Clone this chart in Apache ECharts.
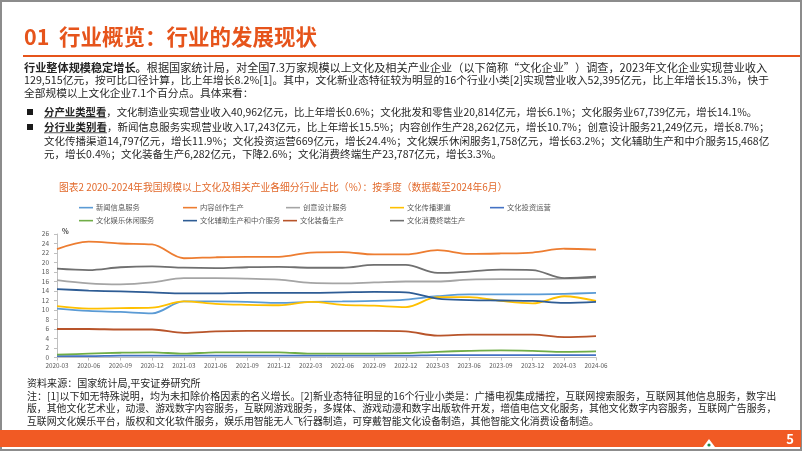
<!DOCTYPE html>
<html><head><meta charset="utf-8">
<script src="https://cdn.jsdelivr.net/npm/echarts@6/dist/echarts.min.js"></script>
<style>html,body{margin:0;padding:0;background:#fff}#c{width:802px;height:451px}</style>
</head><body><div id="c"></div>
<script>
// ---------- DATA ----------
const categories = ['2020-03','2020-06','2020-09','2020-12','2021-03','2021-06','2021-09','2021-12','2022-03','2022-06','2022-09','2022-12','2023-03','2023-06','2023-09','2023-12','2024-03','2024-06'];
const seriesNames = ['新闻信息服务','内容创作生产','创意设计服务','文化传播渠道','文化投资运营','文化娱乐休闲服务','文化辅助生产和中介服务','文化装备生产','文化消费终端生产'];
const newsInfo      = [10.3, 9.8, 9.6, 9.3,11.8,11.8,11.7,11.5,11.7,11.8,11.9,12.2,12.9,13.3,13.3,13.3,13.4,13.6];
const contentCreate = [22.8,24.4,24.0,23.8,20.9,21.1,21.2,21.2,22.1,22.2,21.7,21.7,22.6,21.8,21.9,22.1,22.9,22.7];
const creativeDesign= [16.3,15.6,15.4,15.8,16.7,16.7,16.6,16.4,15.7,15.6,15.8,16.0,16.0,16.4,16.5,16.5,16.6,16.8];
const commChannel   = [10.8,10.3,10.4,10.5,11.8,11.3,11.1,11.0,11.7,11.1,10.9,10.6,12.7,12.7,11.9,11.4,12.9,11.9];
const investOper    = [0.3,0.3,0.4,0.4,0.4,0.4,0.4,0.4,0.4,0.4,0.4,0.4,0.5,0.5,0.5,0.5,0.5,0.5];
const leisure       = [0.6,0.8,1.0,1.1,0.8,1.1,1.1,1.1,0.8,0.8,0.8,0.9,1.2,1.4,1.5,1.4,1.2,1.3];
const auxiliary     = [14.4,14.1,13.9,13.7,13.5,13.5,13.6,13.6,13.6,13.7,13.8,13.7,12.4,12.1,12.0,11.9,11.5,11.7];
const equipment     = [6.0,6.0,5.9,5.9,5.2,5.5,5.6,5.6,5.6,5.6,5.6,5.5,4.6,4.8,4.8,4.8,4.3,4.5];
const consumerTerm  = [18.7,18.4,19.0,19.2,18.9,18.8,19.0,19.1,18.9,18.9,19.5,19.5,17.8,18.1,18.5,18.4,16.7,17.0];
const seriesColors = ['#5b9bd5','#ed7d31','#a5a5a5','#ffc000','#4472c4','#70ad47','#2e5c94','#b8542a','#707070'];
const yMin = 0, yMax = 26, yInterval = 2;

// ---------- TEXT ----------
const titleText = '01  行业概览：行业的发展现状';
const paraLines = [
  '{b|行业整体规模稳定增长。}根据国家统计局，对全国7.3万家规模以上文化及相关产业企业（以下简称“文化企业”）调查，2023年文化企业实现营业收入',
  '129,515亿元，按可比口径计算，比上年增长8.2%[1]。其中，文化新业态特征较为明显的16个行业小类[2]实现营业收入52,395亿元，比上年增长15.3%，快于',
  '全部规模以上文化企业7.1个百分点。具体来看：'
];
const bullet1 = '{u|分产业类型看}，文化制造业实现营业收入40,962亿元，比上年增长0.6%；文化批发和零售业20,814亿元，增长6.1%；文化服务业67,739亿元，增长14.1%。';
const bullet2Lines = [
  '{u|分行业类别看}，新闻信息服务实现营业收入17,243亿元，比上年增长15.5%；内容创作生产28,262亿元，增长10.7%；创意设计服务21,249亿元，增长8.7%；',
  '文化传播渠道14,797亿元，增长11.9%；文化投资运营669亿元，增长24.4%；文化娱乐休闲服务1,758亿元，增长63.2%；文化辅助生产和中介服务15,468亿',
  '元，增长0.4%；文化装备生产6,282亿元，下降2.6%；文化消费终端生产23,787亿元，增长3.3%。'
];
const chartTitle = '图表2 2020-2024年我国规模以上文化及相关产业各细分行业占比（%）：按季度（数据截至2024年6月）';
const sourceText = '资料来源：国家统计局,平安证券研究所';
const noteLines = [
  '注：[1]以下如无特殊说明，均为未扣除价格因素的名义增长。[2]新业态特征明显的16个行业小类是：广播电视集成播控，互联网搜索服务，互联网其他信息服务，数字出',
  '版，其他文化艺术业，动漫、游戏数字内容服务，互联网游戏服务，多媒体、游戏动漫和数字出版软件开发，增值电信文化服务，其他文化数字内容服务，互联网广告服务，',
  '互联网文化娱乐平台，版权和文化软件服务，娱乐用智能无人飞行器制造，可穿戴智能文化设备制造，其他智能文化消费设备制造。'
];
const pageNumber = '5';

// ---------- HELPERS ----------
const FONT = '"Noto Sans CJK SC","Noto Sans CJK JP",sans-serif';
const mctx = document.createElement('canvas').getContext('2d');
function measure(s, size, weight) { mctx.font = (weight || 'normal') + ' ' + size + 'px ' + FONT; return mctx.measureText(s).width; }
function parseRich(s) {
  const parts = []; const re = /\{(\w)\|([^}]*)\}/g; let last = 0, m;
  while ((m = re.exec(s))) { if (m.index > last) parts.push({t: s.slice(last, m.index), b: false}); parts.push({t: m[2], b: true, tag: m[1]}); last = re.lastIndex; }
  if (last < s.length) parts.push({t: s.slice(last), b: false});
  return parts;
}
function measureRich(s, size) { return parseRich(s).reduce((w, p) => w + measure(p.t, size, p.b ? 'bold' : 'normal'), 0); }
function fit(s, target, weight) { return 10 * target / (weight ? measure(s, 10, weight) : measureRich(s, 10)); }

const graphics = [];
function addText(str, x, y, size, color, weight, align) {
  graphics.push({
    type: 'text', x: x, y: y, silent: true, z: 10,
    style: {
      text: str, fill: color, fontSize: size, fontFamily: FONT, fontWeight: weight || 'normal',
      textAlign: align || 'left', align: align || 'left', textVerticalAlign: 'middle', verticalAlign: 'middle',
      rich: {
        b: {fontWeight: 'bold', fontSize: size, fontFamily: FONT, fill: color},
        u: {fontWeight: 'bold', fontSize: size, fontFamily: FONT, fill: color}
      }
    }
  });
}
function addUnderline(str, x, y, size, color) {
  const parts = parseRich(str);
  let cx = x;
  parts.forEach(p => {
    const w = measure(p.t, size, p.b ? 'bold' : 'normal');
    if (p.tag === 'u') graphics.push({type: 'line', silent: true, z: 10, shape: {x1: cx, y1: y + size * 0.55, x2: cx + w, y2: y + size * 0.55}, style: {stroke: color, lineWidth: 0.8}});
    cx += w;
  });
}

// Slide frame
graphics.push({type: 'rect', silent: true, z: 1, shape: {x: 1, y: 1, width: 800, height: 449}, style: {fill: 'none', stroke: '#8c8c8c', lineWidth: 2}});
// Title
const titleSize = fit(titleText, 293, 'bold');
addText(titleText, 24, 37, titleSize, '#e6541b', 'bold');
graphics.push({type: 'line', silent: true, z: 10, shape: {x1: 23, y1: 56, x2: 800, y2: 56}, style: {stroke: '#e6541b', lineWidth: 2}});
// Paragraph
const textColor = '#262626';
const pSize1 = fit(paraLines[0], 744), pSize2 = fit(paraLines[1], 746);
addText(paraLines[0], 24, 68, pSize1, textColor);
addText(paraLines[1], 24, 80, pSize2, textColor);
addText(paraLines[2], 24, 93, pSize2, textColor);
// Bullets
const bSize1 = fit(bullet1, 714);
graphics.push({type: 'rect', silent: true, z: 10, shape: {x: 27, y: 109, width: 6, height: 6}, style: {fill: '#1a1a1a'}});
addText(bullet1, 44, 112, bSize1, textColor);
addUnderline(bullet1, 44, 112, bSize1, textColor);
const b2s1 = fit(bullet2Lines[0], 726), b2s2 = fit(bullet2Lines[1], 726);
graphics.push({type: 'rect', silent: true, z: 10, shape: {x: 27, y: 124, width: 6, height: 6}, style: {fill: '#1a1a1a'}});
addText(bullet2Lines[0], 44, 127, b2s1, textColor);
addUnderline(bullet2Lines[0], 44, 127, b2s1, textColor);
addText(bullet2Lines[1], 44, 141, b2s2, textColor);
addText(bullet2Lines[2], 44, 154, b2s2, textColor);
// Chart title
addText(chartTitle, 59, 187, fit(chartTitle, 449), '#e2692b');
// % unit
addText('%', 62, 231, 7, '#404040', 'bold');
// Notes
const nSize1 = fit(noteLines[0], 750), nSize2 = fit(noteLines[1], 750);
addText(sourceText, 27, 383, nSize1, textColor);
addText(noteLines[0], 27, 396, nSize1, textColor);
addText(noteLines[1], 27, 408.5, nSize2, textColor);
addText(noteLines[2], 27, 421, nSize2, textColor);
// Bottom bar
graphics.push({type: 'rect', silent: true, z: 5, shape: {x: 0, y: 430, width: 801, height: 17}, style: {fill: '#f15a24'}});
graphics.push({type: 'polygon', silent: true, z: 11, shape: {points: [[703, 447], [709, 439], [715, 447]]}, style: {fill: '#ffffff'}});
graphics.push({type: 'circle', silent: true, z: 12, shape: {cx: 709, cy: 445, r: 1.6}, style: {fill: '#1b8a4c'}});
addText(pageNumber, 790, 439, 13, '#ffffff', 'bold', 'center');

// ---------- CHART ----------
const dataArrays = [newsInfo, contentCreate, creativeDesign, commChannel, investOper, leisure, auxiliary, equipment, consumerTerm];
const series = seriesNames.map((n, i) => ({
  name: n, type: 'line', data: dataArrays[i], smooth: 0.35, showSymbol: false, symbol: 'none',
  lineStyle: {width: 1.8, color: seriesColors[i]}, itemStyle: {color: seriesColors[i]}, z: 3
}));
const legendPos = [[79,209],[183,209],[286,209],[390,209],[490,209],[79,222],[183,222],[283,222],[390,222]];
const legends = seriesNames.map((n, i) => ({
  data: [n], left: legendPos[i][0], top: legendPos[i][1] - 5, orient: 'horizontal', padding: 0,
  icon: 'rect', itemWidth: 14, itemHeight: 1.6, selectedMode: false,
  textStyle: {fontSize: 7.3, color: '#595959', fontFamily: FONT, padding: [0, 0, 0, -2]}
}));

const chart = echarts.init(document.getElementById('c'), null, {renderer: 'canvas'});
chart.setOption({
  animation: false,
  backgroundColor: '#ffffff',
  color: seriesColors,
  legend: legends,
  grid: {left: 57, right: 206, top: 234, bottom: 93.5, containLabel: false},
  xAxis: {
    type: 'category', data: categories, boundaryGap: false,
    axisLine: {lineStyle: {color: '#bfbfbf', width: 1}},
    axisTick: {show: true, interval: 0, length: 3, lineStyle: {color: '#bfbfbf'}},
    axisLabel: {interval: 0, fontSize: 6.3, color: '#595959', margin: 5, fontFamily: FONT}
  },
  yAxis: {
    type: 'value', min: yMin, max: yMax, interval: yInterval,
    axisLine: {show: true, lineStyle: {color: '#bfbfbf'}},
    axisTick: {show: true, length: 3, lineStyle: {color: '#bfbfbf'}},
    splitLine: {show: false},
    axisLabel: {fontSize: 6.5, color: '#595959', margin: 8, fontFamily: FONT}
  },
  series: series,
  graphic: graphics
});
</script></body></html>
